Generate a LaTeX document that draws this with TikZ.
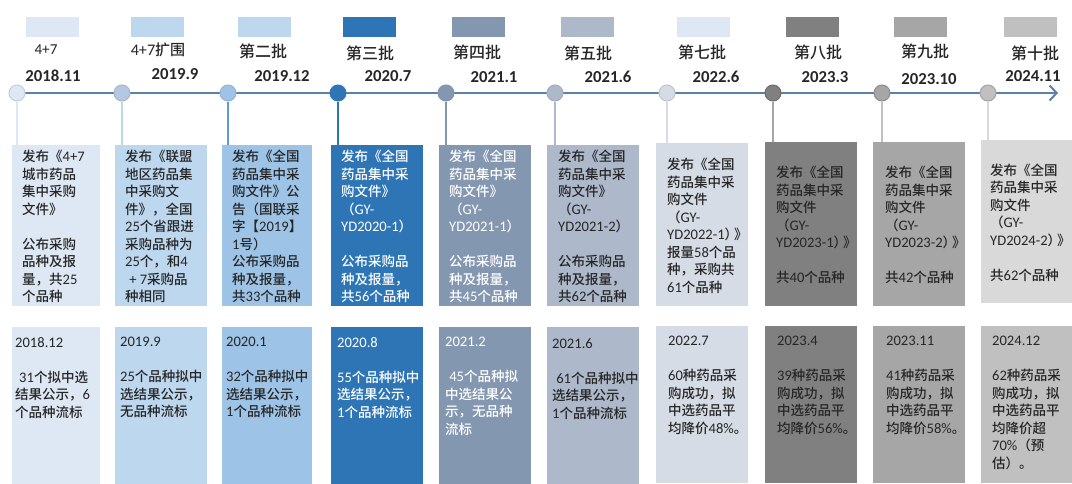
\documentclass[tikz,border=0pt]{standalone}
\usepackage{fontspec}
\setmainfont{Noto Sans CJK SC}[UprightFont=* Medium, BoldFont=* Bold]
\newfontfamily\latf{Carlito}[Scale=1.08]
\newcommand\lnum[1]{{\latf #1}}
\newcommand\pq{）\kern-0.3em》}
\usetikzlibrary{arrows.meta}
\definecolor{txt}{HTML}{262626}
\definecolor{tlc}{HTML}{5B80AC}
\definecolor{ka}{HTML}{DEE8F4}
\definecolor{kb}{HTML}{BDD7EE}
\definecolor{kc}{HTML}{9DC3E6}
\definecolor{kd}{HTML}{2E75B6}
\definecolor{ke}{HTML}{8497B0}
\definecolor{kf}{HTML}{ADB9CA}
\definecolor{kg}{HTML}{D6DCE5}
\definecolor{kh}{HTML}{808080}
\definecolor{ki}{HTML}{A6A6A6}
\definecolor{kj}{HTML}{D9D9D9}
\definecolor{kk}{HTML}{C0C0C0}
\definecolor{kl}{HTML}{B4C8E2}
\definecolor{km}{HTML}{5B9BD5}
\begin{document}
\begin{tikzpicture}[x=1pt,y=-1pt,
  swatch/.style={minimum width=53pt, minimum height=20pt, inner sep=0pt, anchor=north west},
  lbl/.style={font=\fontsize{16}{18}\selectfont, text=txt, inner sep=0pt},
  datel/.style={font=\latf\bfseries\fontsize{15.5}{17}\selectfont, text=txt, inner sep=0pt},
  dot/.style={circle, minimum size=16pt, inner sep=0pt, line width=1pt},
  vline/.style={line width=1.5pt},
  timeline/.style={line width=2.5pt, draw=tlc, -{Straight Barb[length=7pt,width=15pt,line width=2pt]}},
  topbox/.style={minimum width=92pt, inner sep=0pt, anchor=north west},
  toptext/.style={align=left, inner sep=0pt, font=\fontsize{13.5}{17.5}\selectfont, text=txt, anchor=west},
  botbox/.style={minimum width=92pt, minimum height=157pt, inner sep=0pt, anchor=north west},
  bottext/.style={align=left, inner sep=0pt, font=\fontsize{13.5}{17.5}\selectfont, text=txt, anchor=north west}
]
\useasboundingbox (0,0) rectangle (1072,483);
\fill[white] (0,0) rectangle (1072,483);

% swatches
\node[swatch, fill=ka] (s1) at (26,17) {};
\node[swatch, fill=kb] (s2) at (131,17) {};
\node[swatch, fill=kb] (s3) at (238,17) {};
\node[swatch, fill=kd] (s4) at (343,17) {};
\node[swatch, fill=ke] (s5) at (452,17) {};
\node[swatch, fill=kf] (s6) at (561,17) {};
\node[swatch, fill=ka] (s7) at (677,17) {};
\node[swatch, fill=kh] (s8) at (786,17) {};
\node[swatch, fill=ki] (s9) at (894,17) {};
\node[swatch, fill=kk] (s10) at (1004,17) {};

% labels
\node[lbl, font=\latf\fontsize{14}{15}\selectfont] (l1) at (46,50) {4+7};
\node[lbl, font=\fontsize{15}{16}\selectfont] (l2) at (158,50) {\lnum{4+7}扩围};
\node[lbl] (l3) at (263,51) {第二批};
\node[lbl] (l4) at (370,53) {第三批};
\node[lbl] (l5) at (477,52) {第四批};
\node[lbl] (l6) at (588,53) {第五批};
\node[lbl] (l7) at (702,52) {第七批};
\node[lbl] (l8) at (818,52) {第八批};
\node[lbl] (l9) at (925,51) {第九批};
\node[lbl] (l10) at (1035,53) {第十批};

% dates
\node[datel] (d1) at (53,76) {2018.11};
\node[datel] (d2) at (175,74) {2019.9};
\node[datel] (d3) at (282,76) {2019.12};
\node[datel] (d4) at (388,76) {2020.7};
\node[datel] (d5) at (494,77) {2021.1};
\node[datel] (d6) at (608,77) {2021.6};
\node[datel] (d7) at (716,77) {2022.6};
\node[datel] (d8) at (825,77) {2023.3};
\node[datel] (d9) at (929,79) {2023.10};
\node[datel] (d10) at (1033,76) {2024.11};

% timeline
\coordinate (tl) at (17,93);
\coordinate (tr) at (1058,93);
\draw[timeline] (tl) -- (tr);

% circles
\node[dot, fill=ka, draw=ka!75!gray] (c1) at (17,93) {};
\node[dot, fill=kl, draw=kl!75!gray] (c2) at (122,93) {};
\node[dot, fill=kc, draw=kc!80!gray] (c3) at (228,93) {};
\node[dot, fill=kd, draw=kd!85!gray] (c4) at (338,93) {};
\node[dot, fill=ke, draw=ke!85!gray] (c5) at (446,93) {};
\node[dot, fill=kf, draw=kf!80!gray] (c6) at (555,93) {};
\node[dot, fill=kg, draw=kg!75!gray] (c7) at (667,93) {};
\node[dot, fill=kh, draw=kh!85!black] (c8) at (773,93) {};
\node[dot, fill=ki, draw=ki!85!black] (c9) at (882,93) {};
\node[dot, fill=kk, draw=kk!85!black] (c10) at (988,93) {};

% top boxes
\node[topbox, fill=ka, minimum width=88pt, minimum height=161pt] (t1) at (12,145) {};
\node[topbox, fill=kb, minimum height=161pt] (t2) at (115,145) {};
\node[topbox, fill=kc, minimum width=90pt, minimum height=161pt] (t3) at (222,145) {};
\node[topbox, fill=kd, minimum height=161pt] (t4) at (331,145) {};
\node[topbox, fill=ke, minimum height=161pt] (t5) at (439,145) {};
\node[topbox, fill=kf, minimum height=161pt] (t6) at (547,145) {};
\node[topbox, fill=kg, minimum height=163pt] (t7) at (656,143) {};
\node[topbox, fill=kh, minimum height=164pt] (t8) at (765,142) {};
\node[topbox, fill=ki, minimum height=164pt] (t9) at (873,142) {};
\node[topbox, fill=kj, minimum height=163pt] (t10) at (981,140) {};

\node[toptext] (tt1) at ([xshift=10pt,yshift=-1pt]t1.west)
 {发布《\lnum{4+7}\\城市药品\\集中采购\\文件》\\~\\公布采购\\品种及报\\量，共\lnum{25}\\个品种};
\node[toptext] (tt2) at ([xshift=10pt,yshift=-1pt]t2.west)
 {发布《联盟\\地区药品集\\中采购文\\件》，全国\\\lnum{25}个省跟进\\采购品种为\\\lnum{25}个，和\lnum{4}\\\hspace*{0.3em}\lnum{+ 7}采购品\\种相同};
\node[toptext] (tt3) at ([xshift=10pt,yshift=-1pt]t3.west)
 {发布《全国\\药品集中采\\购文件》公\\告（国联采\\字【\lnum{2019}】\\\lnum{1}号）\\公布采购品\\种及报量，\\共\lnum{33}个品种};
\node[toptext, text=white] (tt4) at ([xshift=10pt,yshift=-1pt]t4.west)
 {发布《全国\\药品集中采\\购文件》\\（\lnum{GY-}\\\lnum{YD2020-1}）\\~\\公布采购品\\种及报量，\\共\lnum{56}个品种};
\node[toptext, text=white] (tt5) at ([xshift=10pt,yshift=-1pt]t5.west)
 {发布《全国\\药品集中采\\购文件》\\（\lnum{GY-}\\\lnum{YD2021-1}）\\~\\公布采购品\\种及报量，\\共\lnum{45}个品种};
\node[toptext] (tt6) at ([xshift=11pt,yshift=-1pt]t6.west)
 {发布《全国\\药品集中采\\购文件》\\（\lnum{GY-}\\\lnum{YD2021-2}）\\~\\公布采购品\\种及报量，\\共\lnum{62}个品种};
\node[toptext] (tt7) at ([xshift=11pt,yshift=-1pt]t7.west)
 {发布《全国\\药品集中采\\购文件\\（\lnum{GY-}\\\lnum{YD2022-1}\pq\\报量\lnum{58}个品\\种，采购共\\\lnum{61}个品种};
\node[toptext] (tt8) at ([xshift=11pt,yshift=-1pt]t8.west)
 {发布《全国\\药品集中采\\购文件\\（\lnum{GY-}\\\lnum{YD2023-1}\pq\\~\\共\lnum{40}个品种};
\node[toptext] (tt9) at ([xshift=12pt,yshift=-1pt]t9.west)
 {发布《全国\\药品集中采\\购文件\\（\lnum{GY-}\\\lnum{YD2023-2}\pq\\~\\共\lnum{42}个品种};
\node[toptext] (tt10) at ([xshift=9pt,yshift=-1pt]t10.west)
 {发布《全国\\药品集中采\\购文件\\（\lnum{GY-}\\\lnum{YD2024-2}\pq\\~\\共\lnum{62}个品种};

% connectors circle -> box
\draw[vline, draw=ka] (c1.south) -- (c1.south |- t1.north);
\draw[vline, draw=kb] (c2.south) -- (c2.south |- t2.north);
\draw[vline, draw=km] (c3.south) -- (c3.south |- t3.north);
\draw[vline, draw=kd] (c4.south) -- (c4.south |- t4.north);
\draw[vline, draw=ke] (c5.south) -- (c5.south |- t5.north);
\draw[vline, draw=kf] (c6.south) -- (c6.south |- t6.north);
\draw[vline, draw=kg] (c7.south) -- (c7.south |- t7.north);
\draw[vline, draw=ki] (c8.south) -- (c8.south |- t8.north);
\draw[vline, draw=kk] (c9.south) -- (c9.south |- t9.north);
\draw[vline, draw=kj] (c10.south) -- (c10.south |- t10.north);

% bottom boxes
\node[botbox, fill=ka, minimum width=88pt] (b1) at (12,327) {};
\node[botbox, fill=kb] (b2) at (115,327) {};
\node[botbox, fill=kc, minimum width=90pt] (b3) at (222,327) {};
\node[botbox, fill=kd] (b4) at (331,327) {};
\node[botbox, fill=ke] (b5) at (439,327) {};
\node[botbox, fill=kf] (b6) at (547,327) {};
\node[botbox, fill=kg] (b7) at (656,326) {};
\node[botbox, fill=kh] (b8) at (765,326) {};
\node[botbox, fill=ki] (b9) at (873,326) {};
\node[botbox, fill=kk] (b10) at (981,326) {};

\node[bottext] (bt1) at ([xshift=3pt,yshift=-10pt]b1.north west)
 {\lnum{2018.12}\\~\\\hspace*{0.3em}\lnum{31}个拟中选\\结果公示，\lnum{6}\\个品种流标};
\node[bottext] (bt2) at ([xshift=5pt,yshift=-10pt]b2.north west)
 {\lnum{2019.9}\\~\\\lnum{25}个品种拟中\\选结果公示，\\无品种流标};
\node[bottext] (bt3) at ([xshift=4pt,yshift=-10pt]b3.north west)
 {\lnum{2020.1}\\~\\\lnum{32}个品种拟中\\选结果公示，\\\lnum{1}个品种流标};
\node[bottext, text=white] (bt4) at ([xshift=6pt,yshift=-10pt]b4.north west)
 {\lnum{2020.8}\\~\\\lnum{55}个品种拟中\\选结果公示，\\\lnum{1}个品种流标};
\node[bottext, text=white] (bt5) at ([xshift=6pt,yshift=-10pt]b5.north west)
 {\lnum{2021.2}\\~\\\hspace*{0.3em}\lnum{45}个品种拟\\中选结果公\\示，无品种\\流标};
\node[bottext] (bt6) at ([xshift=5pt,yshift=-11pt]b6.north west)
 {\lnum{2021.6}\\~\\\hspace*{0.3em}\lnum{61}个品种拟中\\选结果公示，\\\lnum{1}个品种流标};
\node[bottext] (bt7) at ([xshift=12pt,yshift=-10pt]b7.north west)
 {\lnum{2022.7}\\~\\\lnum{60}种药品采\\购成功，拟\\中选药品平\\均降价\lnum{48\%}。};
\node[bottext] (bt8) at ([xshift=12pt,yshift=-10pt]b8.north west)
 {\lnum{2023.4}\\~\\\lnum{39}种药品采\\购成功，拟\\中选药品平\\均降价\lnum{56\%}。};
\node[bottext] (bt9) at ([xshift=13pt,yshift=-10pt]b9.north west)
 {\lnum{2023.11}\\~\\\lnum{41}种药品采\\购成功，拟\\中选药品平\\均降价\lnum{58\%}。};
\node[bottext] (bt10) at ([xshift=11pt,yshift=-10pt]b10.north west)
 {\lnum{2024.12}\\~\\\lnum{62}种药品采\\购成功，拟\\中选药品平\\均降价超\\\lnum{70\%}（预\\估）。};
\end{tikzpicture}
\end{document}
